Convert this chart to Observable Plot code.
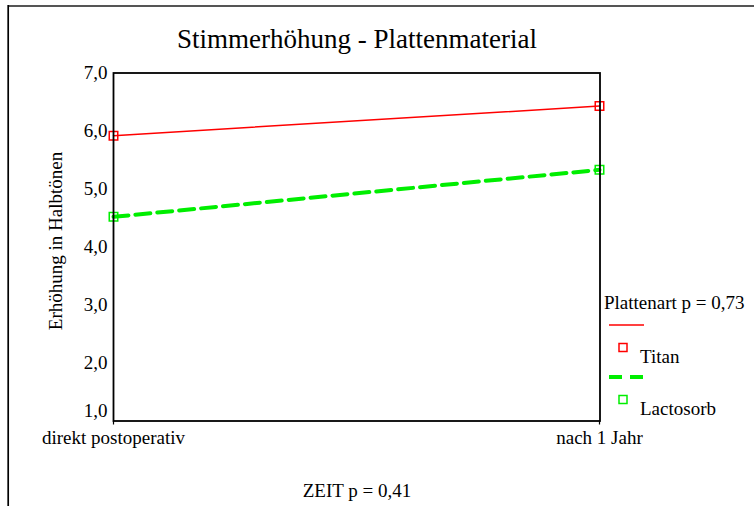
<!DOCTYPE html>
<html>
<head>
<meta charset="utf-8">
<script src="https://cdn.jsdelivr.net/npm/d3@7"></script>
<script src="https://cdn.jsdelivr.net/npm/@observablehq/plot@0.6"></script>
<style>
  html, body { margin: 0; padding: 0; background: white; }
  svg { display: block; }
</style>
</head>
<body>
<div id="chart"></div>
<script>
const times = ["direkt postoperativ", "nach 1 Jahr"];
const titan = [5.92, 6.43];
const lactosorb = [4.52, 5.33];
const seriesNames = ["Titan", "Lactosorb"];
const yTicks = [1, 2, 3, 4, 5, 6, 7];
const title = "Stimmerhöhung - Plattenmaterial";
const yLabel = "Erhöhung in Halbtönen";
const xLabel = "ZEIT p = 0,41";
const legendTitle = "Plattenart p = 0,73";

const red = "#ff0000";
const green = "#00ee00";
const font = "'Liberation Serif', 'Times New Roman', serif";

const titanData = times.map((t, i) => ({time: t, value: titan[i]}));
const lactoData = times.map((t, i) => ({time: t, value: lactosorb[i]}));
const fmt = d => d.toFixed(1).replace(".", ",");

const chart = Plot.plot({
  width: 754,
  height: 506,
  marginLeft: 113,
  marginRight: 154.5,
  marginTop: 72.5,
  marginBottom: 85.5,
  style: {fontFamily: font, fontSize: "19px", background: "white", color: "black"},
  x: {type: "point", domain: times, padding: 0},
  y: {domain: [1, 7]},
  marks: [
    Plot.axisY(yTicks.filter(d => d > 1), {tickSize: 0, tickPadding: 6, tickFormat: fmt, label: null, fontSize: 19}),
    Plot.axisY([1], {tickSize: 0, tickPadding: 6, tickFormat: fmt, label: null, fontSize: 19, dy: -10}),
    Plot.axisX({tickSize: 4, tickPadding: 5, label: null, fontSize: 19, strokeWidth: 1.2}),
    Plot.line(titanData, {x: "time", y: "value", stroke: red, strokeWidth: 1.5}),
    Plot.line(lactoData, {x: "time", y: "value", stroke: green, strokeWidth: 4, strokeDasharray: "15,7"}),
    Plot.dot(titanData, {x: "time", y: "value", symbol: "square", r: 4.8, stroke: red, strokeWidth: 1.5, fill: "none"}),
    Plot.dot(lactoData, {x: "time", y: "value", symbol: "square", r: 4.8, stroke: green, strokeWidth: 1.5, fill: "none"}),
    Plot.frame({stroke: "black", strokeWidth: 1.8})
  ]
});

const svg = d3.select(chart);
// outer frame
svg.append("line").attr("x1", 8).attr("x2", 754).attr("y1", 6).attr("y2", 6)
  .attr("stroke", "#555").attr("stroke-width", 2);
svg.append("line").attr("x1", 8.2).attr("x2", 8.2).attr("y1", 5).attr("y2", 506)
  .attr("stroke", "black").attr("stroke-width", 1.7);

// title
svg.append("text").attr("x", 357).attr("y", 47.7).attr("text-anchor", "middle")
  .attr("font-family", font).attr("font-size", 27).attr("fill", "black").text(title);
// y label
svg.append("text").attr("transform", "translate(62,241) rotate(-90)").attr("text-anchor", "middle")
  .attr("font-family", font).attr("font-size", 19).attr("fill", "black").text(yLabel);
// x label
svg.append("text").attr("x", 357).attr("y", 497).attr("text-anchor", "middle")
  .attr("font-family", font).attr("font-size", 19).attr("fill", "black").text(xLabel);

// legend
const lg = svg.append("g").attr("font-family", font).attr("font-size", 19)
  .attr("fill", "black").attr("text-anchor", "start");
lg.append("text").attr("x", 604).attr("y", 309).attr("text-anchor", "start").text(legendTitle);
const legendItems = [
  {name: seriesNames[0], color: red, width: 1.5, dash: null, y: 325},
  {name: seriesNames[1], color: green, width: 4, dash: "13,8", y: 377}
];
legendItems.forEach(it => {
  const l = lg.append("line").attr("x1", 609).attr("x2", 644).attr("y1", it.y).attr("y2", it.y)
    .attr("stroke", it.color).attr("stroke-width", it.width);
  if (it.dash) l.attr("stroke-dasharray", it.dash);
  lg.append("rect").attr("x", 619).attr("y", it.y + 18.5).attr("width", 8).attr("height", 8)
    .attr("fill", "none").attr("stroke", it.color).attr("stroke-width", 1.5);
  lg.append("text").attr("x", 640).attr("y", it.y + 38).attr("text-anchor", "start").text(it.name);
});

document.getElementById("chart").appendChild(chart);
</script>
</body>
</html>
